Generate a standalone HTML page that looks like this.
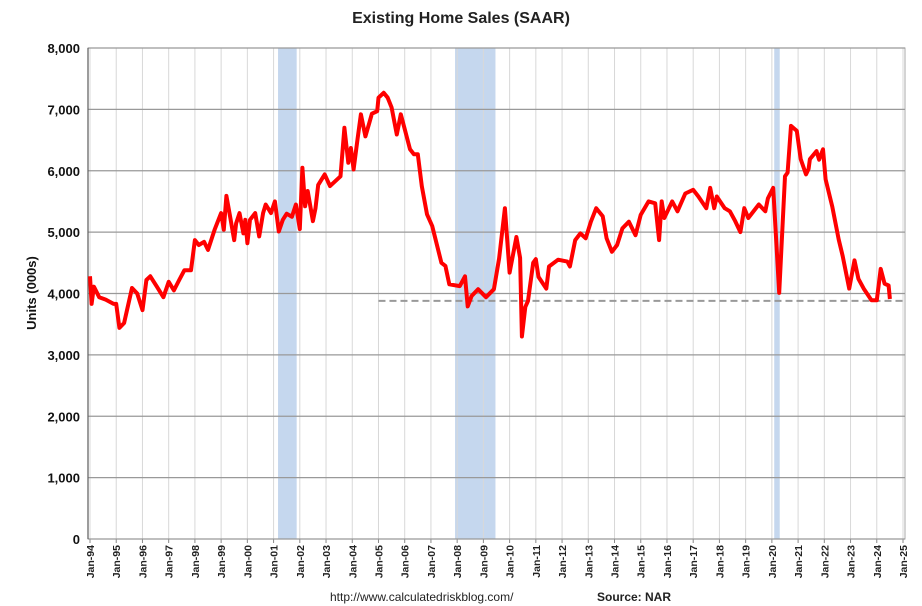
<!DOCTYPE html>
<html><head><meta charset="utf-8">
<style>
body{margin:0;background:#fff;font-family:"Liberation Sans",Arial,sans-serif;}
svg{display:block}
</style></head>
<body>
<svg id="chart" width="922" height="606"></svg>
<script>
const dates=[1994.0,1994.06,1994.15,1994.35,1994.6,1994.9,1995.0,1995.12,1995.3,1995.6,1995.8,1996.0,1996.15,1996.3,1996.55,1996.8,1997.0,1997.2,1997.4,1997.6,1997.85,1998.0,1998.15,1998.35,1998.5,1998.75,1999.0,1999.1,1999.2,1999.32,1999.5,1999.57,1999.7,1999.85,1999.92,2000.0,2000.1,2000.3,2000.45,2000.6,2000.7,2000.9,2001.05,2001.2,2001.35,2001.5,2001.7,2001.85,2002.0,2002.1,2002.2,2002.3,2002.5,2002.6,2002.7,2002.95,2003.15,2003.55,2003.7,2003.85,2003.95,2004.05,2004.2,2004.33,2004.5,2004.65,2004.75,2004.95,2005.0,2005.2,2005.35,2005.5,2005.7,2005.85,2006.0,2006.2,2006.35,2006.5,2006.65,2006.85,2007.05,2007.4,2007.55,2007.7,2008.1,2008.3,2008.4,2008.55,2008.8,2009.1,2009.4,2009.6,2009.82,2010.0,2010.26,2010.4,2010.47,2010.6,2010.7,2010.9,2011.0,2011.1,2011.4,2011.5,2011.85,2012.2,2012.3,2012.5,2012.7,2012.9,2013.1,2013.3,2013.55,2013.7,2013.9,2014.1,2014.3,2014.55,2014.8,2015.0,2015.3,2015.55,2015.7,2015.8,2015.9,2016.2,2016.4,2016.7,2017.0,2017.2,2017.5,2017.65,2017.8,2017.9,2018.2,2018.4,2018.6,2018.8,2018.95,2019.1,2019.5,2019.75,2019.85,2020.05,2020.28,2020.5,2020.6,2020.73,2020.95,2021.1,2021.3,2021.4,2021.45,2021.7,2021.8,2021.95,2022.05,2022.3,2022.55,2022.7,2022.95,2023.15,2023.3,2023.5,2023.8,2024.0,2024.15,2024.3,2024.45,2024.5];
const sales=[4280,3830,4110,3940,3900,3830,3830,3440,3520,4090,4000,3730,4220,4280,4110,3940,4190,4050,4220,4380,4380,4870,4790,4840,4710,5040,5310,5040,5590,5310,4870,5140,5310,4980,5200,4820,5200,5310,4930,5310,5450,5310,5500,5010,5200,5300,5250,5450,5050,6050,5420,5670,5180,5390,5770,5940,5750,5910,6700,6130,6370,6020,6510,6920,6560,6780,6930,6970,7190,7270,7190,7030,6590,6920,6680,6350,6270,6270,5750,5290,5100,4500,4450,4150,4120,4280,3790,3960,4070,3940,4070,4570,5390,4340,4920,4580,3300,3780,3880,4500,4560,4270,4080,4440,4550,4520,4440,4870,4980,4900,5170,5390,5260,4900,4680,4790,5060,5170,4950,5280,5500,5470,4870,5500,5230,5500,5340,5630,5690,5580,5390,5720,5390,5580,5390,5340,5180,5000,5390,5230,5450,5340,5550,5720,4010,5910,5970,6730,6650,6190,5940,6030,6190,6320,6180,6350,5860,5420,4880,4610,4080,4540,4240,4080,3890,3890,4400,4160,4130,3910];
const yTicks=[0,1000,2000,3000,4000,5000,6000,7000,8000];
const yearTicks=[];for(let y=1994;y<=2025;y++)yearTicks.push(y);
const recessions=[[2001.17,2001.88],[2007.92,2009.46],[2020.09,2020.3]];
const refLine=[2005.0,3880];

const NS="http://www.w3.org/2000/svg";
const svg=document.getElementById('chart');
const L=88,R=905,T=48,B=539,x0=90,x1=903;
const X=t=>x0+(t-1994)/(2025-1994)*(x1-x0);
const Y=v=>B-v/8000*(B-T);
function mk(tag,a){const e=document.createElementNS(NS,tag);for(const k in a)e.setAttribute(k,a[k]);svg.appendChild(e);return e;}

let e=mk('rect',{x:L,y:T,width:R-L,height:B-T,fill:'#fff',stroke:'#aaa'});


recessions.forEach(r=>{
  const s=mk('rect',{x:X(r[0]),y:T,width:X(r[1])-X(r[0]),height:B-T,fill:'#c5d7ee'});
  
  
});
yearTicks.forEach(yr=>{
  const g=mk('line',{x1:X(yr),x2:X(yr),y1:T,y2:B,stroke:'#d8d8d8','stroke-width':1});
  
  
  const tk=mk('line',{x1:X(yr),x2:X(yr),y1:B,y2:B+4,stroke:'#888'});
  
  
  const yy=['94','95','96','97','98','99','00','01','02','03','04','05','06','07','08','09','10','11','12','13','14','15','16','17','18','19','20','21','22','23','24','25'][yr-1994];
  const t=mk('text',{x:0,y:0,transform:`translate(${X(yr)+4},${B+6}) rotate(-90)`,'text-anchor':'end','font-size':10.5,'font-weight':'bold',fill:'#222'});
  t.textContent='Jan-'+yy;
  
  
});
yTicks.forEach(v=>{
  const g=mk('line',{x1:L,x2:R,y1:Y(v),y2:Y(v),stroke:'#999','stroke-width':1.3});
  
  
  const t=mk('text',{x:L-8,y:Y(v)+5,'text-anchor':'end','font-size':13,'font-weight':'bold',fill:'#111'});
  t.textContent=v.toLocaleString('en-US');
  
  
});
e=mk('line',{x1:L,x2:L,y1:T,y2:B,stroke:'#666','stroke-width':1.3});


e=mk('line',{x1:X(refLine[0]),x2:R,y1:Y(refLine[1]),y2:Y(refLine[1]),stroke:'#999','stroke-width':2,'stroke-dasharray':'7,4'});


const d=dates.map((t,i)=>(i?'L':'M')+X(t).toFixed(1)+','+Y(sales[i]).toFixed(1)).join('');
e=mk('path',{d:d,fill:'none',stroke:'#ff0000','stroke-width':4,'stroke-linejoin':'round'});


e=mk('text',{x:461,y:23,'text-anchor':'middle','font-size':16,'font-weight':'bold',fill:'#222'});
e.textContent='Existing Home Sales (SAAR)';


e=mk('text',{x:0,y:0,transform:'translate(36,293) rotate(-90)','text-anchor':'middle','font-size':13,'font-weight':'bold',fill:'#111'});
e.textContent='Units (000s)';


e=mk('text',{x:330,y:601,'font-size':12,fill:'#222'});
e.textContent='http://www.calculatedriskblog.com/';


e=mk('text',{x:597,y:601,'font-size':12,'font-weight':'bold',fill:'#222'});
e.textContent='Source: NAR';


</script>
</body></html>
